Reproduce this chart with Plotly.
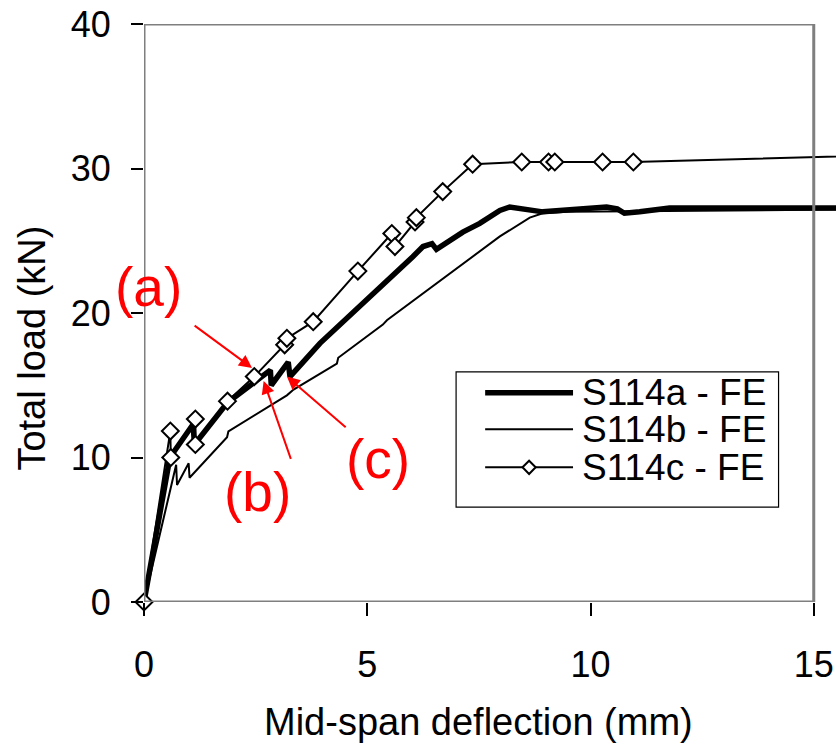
import plotly.graph_objects as go

# Load–deflection curves from the FE models
s114a_x = [0, 0.58, 1.1, 1.13, 1.87, 2.83, 2.85, 3.23, 3.27, 3.94, 6.02, 6.25, 6.45, 6.55,
           7.14, 7.52, 7.97, 8.19, 8.93, 10.36, 10.6, 10.76, 11.1, 11.77, 20]
s114a_y = [0, 10.0, 12.3, 10.9, 13.8, 16.05, 15.0, 16.6, 15.6, 17.9, 23.9, 24.6, 24.8, 24.4,
           25.6, 26.2, 27.1, 27.33, 27.0, 27.33, 27.2, 26.9, 27.0, 27.27, 27.27]

s114b_x = [0, 0.72, 0.74, 1.0, 1.02, 1.86, 1.89, 3.2, 3.35, 4.32, 4.35, 5.35, 5.44,
           7.97, 8.64, 8.93, 9.5, 20]
s114b_y = [0, 9.5, 8.1, 9.6, 8.6, 11.4, 11.8, 14.3, 14.7, 16.5, 16.9, 19.2, 19.5,
           25.3, 26.6, 26.9, 27.0, 27.27]

s114c_x = [0, 0.59, 0.6, 1.15, 1.15, 1.87, 2.47, 3.15, 3.2, 3.79, 4.79, 5.55, 5.62,
           6.07, 6.1, 6.69, 7.36, 8.46, 9.06, 9.2, 10.27, 10.96, 20]
s114c_y = [0, 11.83, 10.0, 12.66, 10.9, 13.9, 15.6, 17.8, 18.25, 19.4, 22.9, 25.5, 24.6,
           26.3, 26.6, 28.4, 30.3, 30.45, 30.45, 30.45, 30.45, 30.45, 31.2]

series_names = ["S114a - FE", "S114b - FE", "S114c - FE"]

x_ticks = [0, 5, 10, 15]
y_ticks = [0, 10, 20, 30, 40]
x_max, y_max = 15, 40

# Callout labels: text, arrow tip (data), tail (data), label centre (data)
callouts = [
    ("(a)", (2.42, 16.2), (1.1, 19.2), (0.1, 21.8)),
    ("(b)", (2.68, 15.3), (3.3, 9.8), (2.55, 7.6)),
    ("(c)", (3.2, 15.6), (4.55, 12.0), (5.25, 9.9)),
]

FONT = "Liberation Sans, Arial, sans-serif"

fig = go.Figure()
fig.add_trace(go.Scatter(x=s114a_x, y=s114a_y, mode="lines", name=series_names[0],
                         line=dict(color="black", width=5.5), showlegend=False))
fig.add_trace(go.Scatter(x=s114b_x, y=s114b_y, mode="lines", name=series_names[1],
                         line=dict(color="black", width=2), showlegend=False))
fig.add_trace(go.Scatter(x=s114c_x, y=s114c_y, mode="lines+markers", name=series_names[2],
                         line=dict(color="black", width=2), cliponaxis=False,
                         marker=dict(symbol="diamond", size=13, color="white",
                                     line=dict(color="black", width=2)),
                         showlegend=False))

# plot frame
fig.add_shape(type="rect", xref="x", yref="y", x0=0, x1=x_max, y0=0, y1=y_max,
              line=dict(color="#7f7f7f", width=3), layer="above")

for text, tip, tail, pos in callouts:
    fig.add_annotation(x=tip[0], y=tip[1], ax=tail[0], ay=tail[1], axref="x", ayref="y",
                       xref="x", yref="y", text="", showarrow=True, arrowhead=2,
                       arrowsize=1.3, arrowwidth=2, arrowcolor="red")
    fig.add_annotation(x=pos[0], y=pos[1], xref="x", yref="y", text=text, showarrow=False,
                       font=dict(family=FONT, size=55, color="red"))

# axis titles, centred on the framed region
fig.add_annotation(x=x_max / 2, y=-0.208, xref="x", yref="paper", yanchor="middle",
                   text="Mid-span deflection (mm)", showarrow=False,
                   font=dict(family=FONT, size=38, color="black"))
fig.add_annotation(x=-0.162, y=0.44, xref="paper", yref="paper", textangle=-90,
                   xanchor="center", yanchor="middle", text="Total load (kN)",
                   showarrow=False, font=dict(family=FONT, size=38, color="black"))

# legend box drawn in paper coordinates
lx0, lx1, ly0, ly1 = 0.451, 0.917, 0.164, 0.398
fig.add_shape(type="rect", xref="paper", yref="paper", x0=lx0, x1=lx1, y0=ly0, y1=ly1,
              line=dict(color="black", width=1.2), fillcolor="white", layer="above")
row_y = [0.362, 0.299, 0.233]
line_x0, line_x1 = 0.493, 0.62
widths = [5.5, 2, 2]
for i, name in enumerate(series_names):
    fig.add_shape(type="line", xref="paper", yref="paper", x0=line_x0, x1=line_x1,
                  y0=row_y[i], y1=row_y[i], line=dict(color="black", width=widths[i]),
                  layer="above")
    fig.add_annotation(x=0.63, y=row_y[i], xref="paper", yref="paper", text=name,
                       showarrow=False, xanchor="left", yanchor="middle",
                       font=dict(family=FONT, size=37, color="black"))
cx, cy = (line_x0 + line_x1) / 2, row_y[2]
dx, dy = 0.0095, 0.0115
fig.add_shape(type="path", xref="paper", yref="paper",
              path=f"M {cx - dx} {cy} L {cx} {cy + dy} L {cx + dx} {cy} L {cx} {cy - dy} Z",
              line=dict(color="black", width=2), fillcolor="white", layer="above")

fig.update_layout(
    width=836, height=749,
    margin=dict(l=144, r=0, t=24, b=147),
    paper_bgcolor="white", plot_bgcolor="white",
    font=dict(family=FONT, size=36, color="black"),
    xaxis=dict(range=[0, 692 / 44.65], tickvals=x_ticks, ticks="outside", ticklen=13,
               tickwidth=1.5, tickcolor="black", showgrid=False, zeroline=False,
               showline=False, ticklabelstandoff=18),
    yaxis=dict(range=[0, y_max], tickvals=y_ticks, ticks="outside", ticklen=12,
               tickwidth=1.5, tickcolor="black", showgrid=False, zeroline=False,
               showline=False, ticklabelstandoff=13),
)

fig.write_html("out.html")
